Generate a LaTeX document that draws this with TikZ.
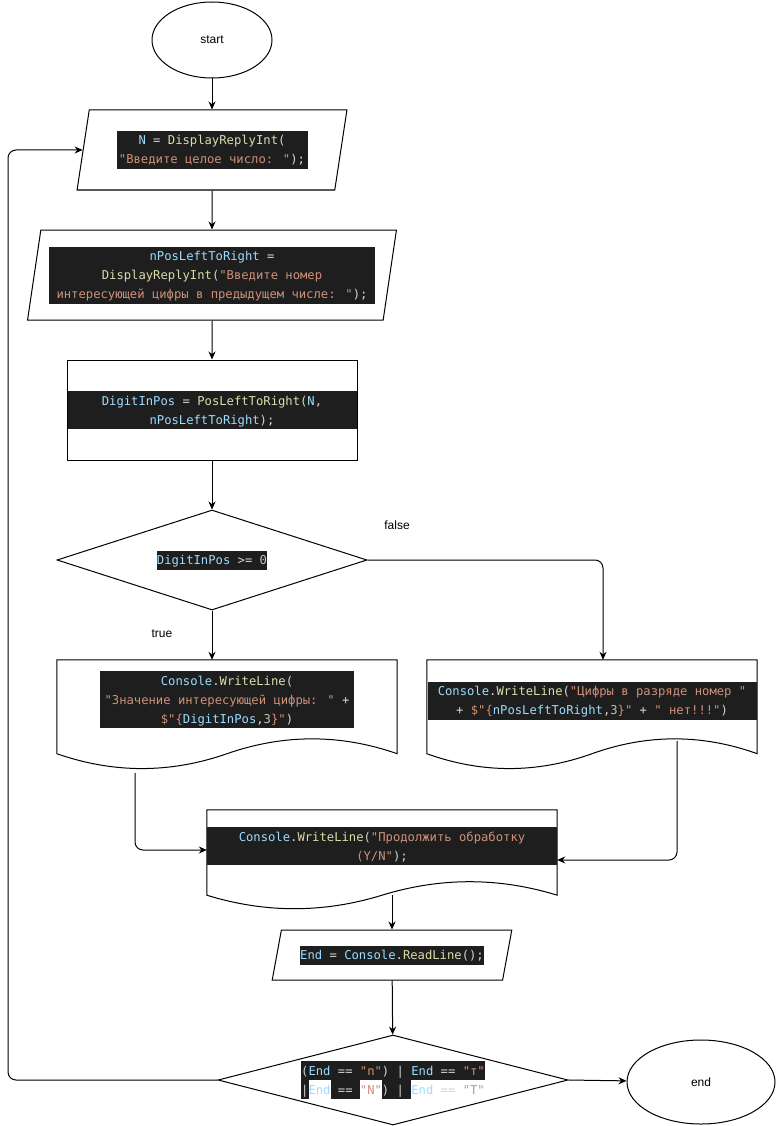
\documentclass[tikz,border=0pt]{standalone}
\usepackage{fontspec}
\setmainfont{Liberation Sans}
\newfontfamily\codefam{DejaVu Sans Mono}
\usetikzlibrary{shapes.geometric,arrows.meta,calc}

\definecolor{codebg}{HTML}{1E1E1E}
\definecolor{ctxt}{HTML}{D4D4D4}
\definecolor{cvar}{HTML}{9CDCFE}
\definecolor{cfun}{HTML}{DCDCAA}
\definecolor{cstr}{HTML}{CE9178}
\definecolor{cnum}{HTML}{B5CEA8}

\setlength\fboxsep{0pt}
\newcommand\codefont{\codefam\fontsize{12.2}{19}\selectfont}
\newcommand\cstrut{\rule[-5pt]{0pt}{19pt}}
\newcommand\cnl{\\\cstrut}
\newcommand\cVar[1]{\textcolor{cvar}{#1}}
\newcommand\cFun[1]{\textcolor{cfun}{#1}}
\newcommand\cStr[1]{\textcolor{cstr}{#1}}
\newcommand\cNum[1]{\textcolor{cnum}{#1}}
\newcommand\codebox[2]{\colorbox{codebg}{\parbox{#1}{\centering\leavevmode\color{ctxt}\codefont\cstrut#2}}}
\newcommand\codeline[1]{\colorbox{codebg}{\codefont\color{ctxt}\cstrut#1}}

\tikzset{
  flow/.style={draw,line width=1pt,inner sep=0pt,font=\fontsize{12}{14}\selectfont},
  term/.style={flow,ellipse},
  io/.style={flow,trapezium,trapezium stretches=true},
  proc/.style={flow,rectangle},
  decide/.style={flow,diamond},
  docshape/.style={rectangle,inner sep=0pt},
  conn/.style={->,line width=1pt,rounded corners=8pt},
  lbl/.style={font=\fontsize{12}{14}\selectfont}
}

\begin{document}
\begin{tikzpicture}[x=1pt,y=-1pt,>={Stealth[length=8pt,width=7pt]}]
  \useasboundingbox (0,0) rectangle (776,1126);

  % shapes
  \node[term,minimum width=120pt,minimum height=76pt] (start) at (212,40) {start};
  \node[io,trapezium left angle=76,trapezium right angle=104,minimum width=270pt,minimum height=80pt] (inN) at (212,150)
    {\codebox{191pt}{\cVar{N} = \cFun{DisplayReplyInt}(\cnl\cStr{"Введите целое число: "});}};
  \node[io,trapezium left angle=77.5,trapezium right angle=102.5,minimum width=370pt,minimum height=90pt] (inP) at (212,275)
    {\codebox{326pt}{\cVar{nPosLeftToRight} =\cnl\cFun{DisplayReplyInt}(\cStr{"Введите номер}\cnl\cStr{интересующей цифры в предыдущем числе: "});}};
  \node[proc,minimum width=290pt,minimum height=100pt] (calc) at (212,410)
    {\codebox{289pt}{\cVar{DigitInPos} = \cFun{PosLeftToRight}(\cVar{N},\cnl\cVar{nPosLeftToRight});}};
  \node[decide,aspect=3.1,minimum width=310pt,minimum height=100pt] (cond) at (212,560)
    {\codeline{\cVar{DigitInPos} >= \cNum{0}}};

  \node[docshape,minimum width=340pt,minimum height=110pt] (docT) at (227,715) {};
  \node[docshape,minimum width=330pt,minimum height=110pt] (docF) at (592,715) {};
  \node[docshape,minimum width=350pt,minimum height=100pt] (docC) at (382,860) {};
  \foreach \dc/\dh in {docT/110,docF/110,docC/100}{
    \draw[line width=1pt] ($(\dc.south west)+(0,-0.15*\dh)$) -- (\dc.north west) -- (\dc.north east) -- ($(\dc.south east)+(0,-0.15*\dh)$)
      .. controls ($(\dc.south east)!1/6!(\dc.south west)+(0,-0.33*\dh)$) and ($(\dc.south east)!1/3!(\dc.south west)+(0,-0.33*\dh)$) .. ($(\dc.south)+(0,-0.15*\dh)$)
      .. controls ($(\dc.south west)!1/3!(\dc.south east)+(0,0.03*\dh)$) and ($(\dc.south west)!1/6!(\dc.south east)+(0,0.03*\dh)$) .. ($(\dc.south west)+(0,-0.15*\dh)$) -- cycle;
  }
  \node (txtT) at ($(docT.center)+(0,-15.5)$)
    {\codebox{254pt}{\cVar{Console}.\cFun{WriteLine}(\cnl\cStr{"Значение интересующей цифры: "} +\cnl\cStr{\$"\{}\cVar{DigitInPos},\cNum{3}\cStr{\}"})}};
  \node (txtF) at ($(docF.center)+(0,-14.5)$)
    {\codebox{329pt}{\cVar{Console}.\cFun{WriteLine}(\cStr{"Цифры в разряде номер "}\cnl+ \cStr{\$"\{}\cVar{nPosLeftToRight},\cNum{3}\cStr{\}"} + \cStr{" нет!!!"})}};
  \node (txtC) at ($(docC.center)+(0,-14)$)
    {\codebox{350pt}{\cVar{Console}.\cFun{WriteLine}(\cStr{"Продолжить обработку}\cnl\cStr{(Y/N"});}};

  \node[io,trapezium left angle=68.2,trapezium right angle=111.8,minimum width=240pt,minimum height=50pt] (inR) at (392,955)
    {\codeline{\cVar{End} = \cVar{Console}.\cFun{ReadLine}();}};
  \node[decide,aspect=3.89,minimum width=350pt,minimum height=90pt,align=center,font=\codefont] (again) at (393,1080)
    {\codeline{(\cVar{End} == \cStr{"n"}) | \cVar{End} == \cStr{"т"}}\\
     \codeline{|}\cVar{End}\codeline{~==~}\cStr{"N"}\codeline{) | }\cVar{End}\textcolor{ctxt}{~==~}\cStr{"Т"}};
  \node[term,minimum width=148pt,minimum height=84pt] (stop) at (701,1082) {end};

  % labels
  \node[lbl] (lblF) at (397,525) {false};
  \node[lbl] (lblT) at (162,634) {true};

  % connectors
  \coordinate (fIn) at ([xshift=11pt]docF.north);
  \coordinate (tOut) at (135,773);
  \coordinate (fOut) at (677,741);
  \coordinate (cOut) at (392,895);
  \coordinate (loopL) at (8,600);
  \draw[conn] (start) -- (inN);
  \draw[conn] (inN) -- (inP);
  \draw[conn] (inP) -- (calc);
  \draw[conn] (calc) -- (cond);
  \draw[conn] (cond.south) -- (cond.south |- docT.north);
  \draw[conn] (cond.east) -| (fIn);
  \draw[conn] (tOut) |- ([yshift=10pt]docC.west);
  \draw[conn] (fOut) |- (docC.east);
  \draw[conn] (cOut) -- (cOut |- inR.north);
  \draw[conn] (inR) -- (again);
  \draw[conn] (again.east) -- (stop);
  \draw[conn] (again.west) -| (loopL) |- (inN.left side);
\end{tikzpicture}
\end{document}
